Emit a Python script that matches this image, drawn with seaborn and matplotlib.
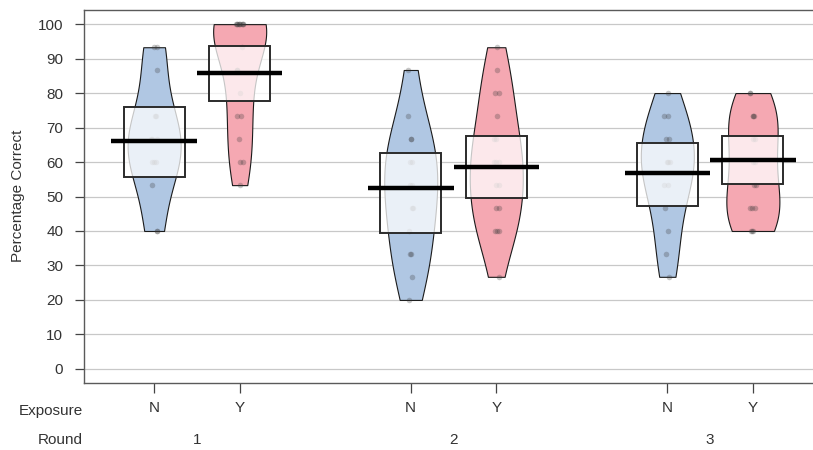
import numpy as np
import pandas as pd
import seaborn as sns
import matplotlib.pyplot as plt
import matplotlib.transforms as mtransforms

# Percentage correct per participant, one list per Round x Exposure group
r1_n = [93.3, 93.3, 86.7, 73.3, 73.3, 66.7, 66.7, 66.7, 60, 60, 60, 53.3, 40, 40]
r1_y = [100, 100, 100, 100, 100, 100, 100, 100, 100,
        93.3, 86.7, 86.7, 80, 73.3, 73.3, 66.7, 60, 60, 53.3]
r2_n = [86.7, 73.3, 66.7, 66.7, 60, 60, 53.3, 53.3, 46.7, 46.7, 40,
        33.3, 33.3, 26.7, 20]
r2_y = [93.3, 86.7, 80, 80, 73.3, 66.7, 66.7, 60, 60, 60, 53.3, 53.3,
        46.7, 46.7, 40, 40, 40, 26.7]
r3_n = [80, 73.3, 73.3, 66.7, 66.7, 60, 60, 60, 53.3, 53.3, 46.7, 40,
        33.3, 26.7]
r3_y = [80, 80, 73.3, 73.3, 73.3, 66.7, 66.7, 60, 60, 53.3, 53.3,
        46.7, 46.7, 46.7, 40, 40, 40]

rounds = ['1', '2', '3']
round_centres = [1.5, 4.5, 7.5]
exposure = ['N', 'Y', 'N', 'Y', 'N', 'Y']
groups = [r1_n, r1_y, r2_n, r2_y, r3_n, r3_y]

# group means and inference bands
means = [66.0, 85.9, 52.5, 58.5, 56.7, 60.5]
band_lo = [55.7, 77.8, 39.5, 49.7, 47.1, 53.6]
band_hi = [76.0, 93.7, 62.5, 67.5, 65.4, 67.5]

positions = [1, 2, 4, 5, 7, 8]

rows = []
for pos, exp, vals in zip(positions, exposure, groups):
    for v in vals:
        rows.append({'pos': pos, 'exposure': exp, 'value': v})
df = pd.DataFrame(rows)

sns.set_style('white')
plt.rcParams['font.family'] = ['Liberation Sans', 'DejaVu Sans']

fig = plt.figure(figsize=(8.13, 4.5), dpi=100)
ax = fig.add_axes([84 / 813, 1 - 383 / 450, 739 / 813, 373 / 450])

pal = {'N': '#b0c7e3', 'Y': '#f5a8b2'}

# beans
sns.violinplot(data=df, x='pos', y='value', hue='exposure', palette=pal,
               native_scale=True, dodge=False, cut=0, inner=None,
               density_norm='width', width=0.62, bw_adjust=1.0,
               linewidth=0.8, linecolor='#1a1a1a', saturation=1,
               legend=False, ax=ax)

# raw points
np.random.seed(4)
sns.stripplot(data=df, x='pos', y='value', native_scale=True, color='#3a3a3a',
              alpha=0.28, size=4, jitter=0.04, linewidth=0, ax=ax)

# inference bands
ax.bar(positions, np.array(band_hi) - np.array(band_lo), bottom=band_lo,
       width=0.71, color=(1, 1, 1, 0.75), edgecolor='#2b2b2b', linewidth=1.4,
       zorder=3)

# means
ax.hlines(means, np.array(positions) - 0.5, np.array(positions) + 0.5,
          color='black', linewidth=3.2, zorder=4)

ax.set_xlim(0.18, 8.82)
ax.set_ylim(-4.1, 104.1)
ax.set_yticks(range(0, 101, 10))
ax.set_xticks(positions)
ax.set_xticklabels(exposure)
ax.set_xlabel('')
ax.set_ylabel('')

ax.yaxis.grid(True, color='#c8c8c8', linewidth=0.9)
ax.set_axisbelow(True)

for side in ['left', 'bottom', 'top']:
    ax.spines[side].set_color('#5a5a5a')
    ax.spines[side].set_linewidth(1.0)
ax.spines['right'].set_visible(False)

ax.tick_params(axis='y', direction='out', length=6.5, width=0.9,
               color='#444444', pad=8.5, labelsize=11, labelcolor='#333333',
               left=True)
ax.tick_params(axis='x', direction='out', length=7, width=0.9,
               color='#444444', pad=6, labelsize=11, labelcolor='#333333',
               bottom=True)

trans = mtransforms.blended_transform_factory(ax.transData, ax.transAxes)
for r, x in zip(rounds, round_centres):
    ax.text(x, -0.153, r, transform=trans, ha='center', va='center',
            fontsize=11, color='#333333')

fig.text(83 / 813, 1 - 411 / 450, 'Exposure', ha='right', va='center',
         fontsize=11, color='#333333')
fig.text(83 / 813, 1 - 440 / 450, 'Round', ha='right', va='center',
         fontsize=11, color='#333333')
fig.text(18 / 813, 1 - 196 / 450, 'Percentage Correct', rotation=90,
         ha='center', va='center', fontsize=11, color='#333333')

fig.savefig('out.png', dpi=100)
